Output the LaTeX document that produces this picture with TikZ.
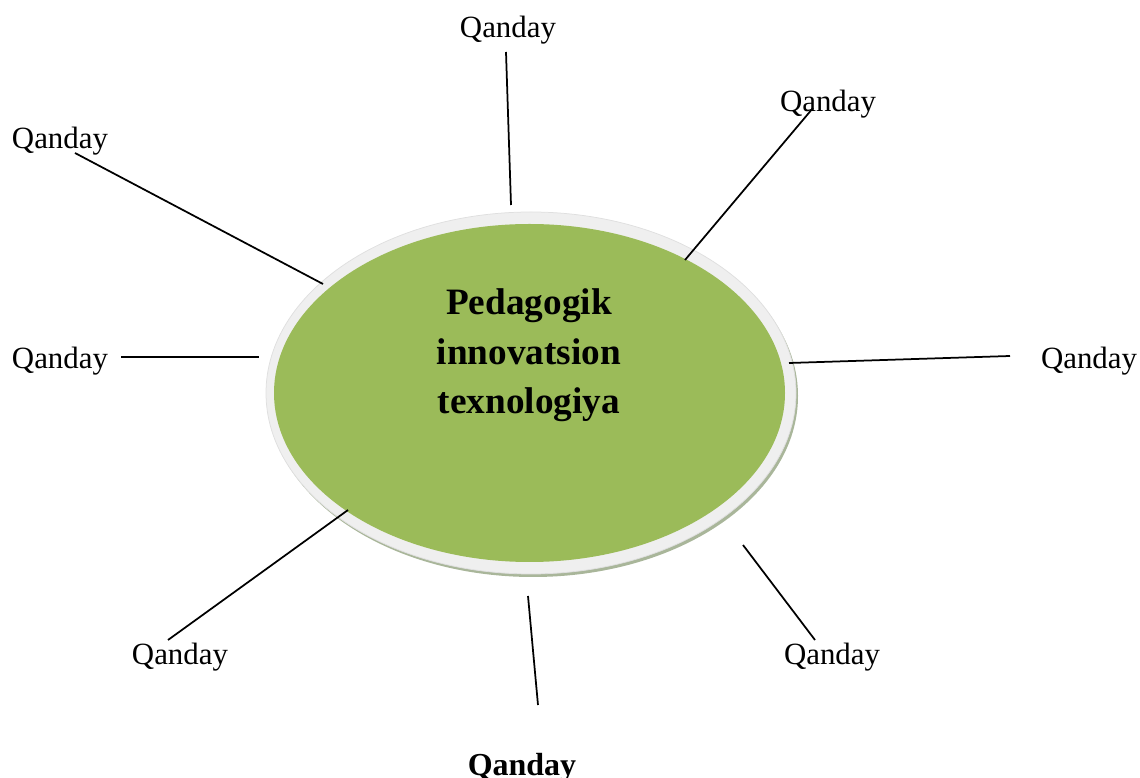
\documentclass[tikz,border=0pt]{standalone}
\usepackage{fontspec}
\setmainfont{Liberation Serif}
\definecolor{olivegreen}{HTML}{9BBB59}
\definecolor{rimgray}{HTML}{EFEFEF}
\definecolor{shadowgreen}{HTML}{A9B69A}
\tikzset{
	qlabel/.style={anchor=base, inner sep=0pt, font=\fontsize{12.35}{14}\selectfont},
	spoke/.style={line width=0.7pt},
}
\begin{document}
\begin{tikzpicture}[x=0.4pt,y=-0.4pt]
	\useasboundingbox (0,0) rectangle (1140,778);
	%ellipszis keret es kitoltes
	\fill [shadowgreen] (533,396) ellipse (265 and 181);
	\fill [rimgray, draw=gray!25, line width=0.3pt] (531,393) ellipse (265 and 181);
	\fill [olivegreen] (529.5,393) ellipse (255.5 and 169);
	\node [anchor=base, align=center, inner sep=0pt, font=\fontsize{14.9}{19.8}\selectfont\bfseries] (ped) at (529,414) {Pedagogik\\innovatsion\\texnologiya};
	
	%feliratok
	\node [qlabel] (qtop) at (508,38) {Qanday};
	\node [qlabel] (qtopright) at (828,112) {Qanday};
	\node [qlabel] (qtopleft) at (60,149) {Qanday};
	\node [qlabel] (qleft) at (60,369) {Qanday};
	\node [qlabel] (qright) at (1089,369) {Qanday};
	\node [qlabel] (qbotleft) at (180,664) {Qanday};
	\node [qlabel] (qbotright) at (832,664) {Qanday};
	\node [qlabel, font=\fontsize{12.8}{14}\selectfont\bfseries] (qbot) at (522,775) {Qanday};
	
	%vonalak vegpontjai
	\coordinate (t1) at (506,52);   \coordinate (t2) at (511,205);
	\coordinate (tr1) at (813,108); \coordinate (tr2) at (685,260);
	\coordinate (tl1) at (75,153);  \coordinate (tl2) at (323,284);
	\coordinate (l1) at (121,357);  \coordinate (l2) at (259,357);
	\coordinate (r1) at (1010,356); \coordinate (r2) at (789,363);
	\coordinate (bl1) at (168,640); \coordinate (bl2) at (348,510);
	\coordinate (b1) at (538,705);  \coordinate (b2) at (528,596);
	\coordinate (br1) at (815,640); \coordinate (br2) at (743,545);
	
	%vonalak
	\draw [spoke] (t1) -- (t2);
	\draw [spoke] (tr1) -- (tr2);
	\draw [spoke] (tl1) -- (tl2);
	\draw [spoke] (l1) -- (l2);
	\draw [spoke] (r1) -- (r2);
	\draw [spoke] (bl1) -- (bl2);
	\draw [spoke] (b1) -- (b2);
	\draw [spoke] (br1) -- (br2);
\end{tikzpicture}
\end{document}
